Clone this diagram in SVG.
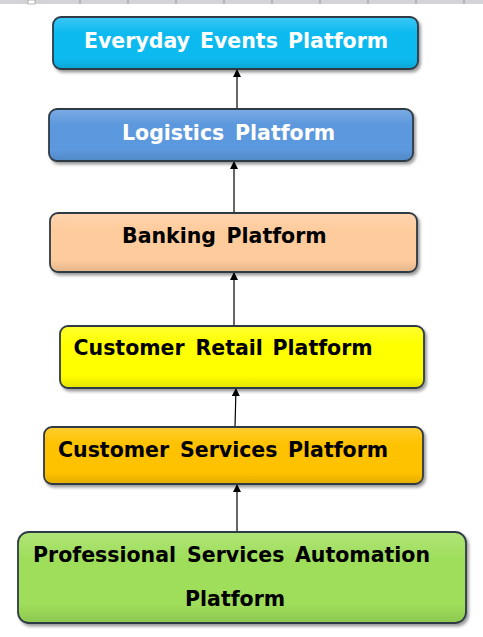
<svg xmlns="http://www.w3.org/2000/svg" width="483" height="637" viewBox="0 0 483 637">
<defs>
<style>
.box{stroke:#2f3a45;stroke-width:1.8;filter:url(#sh)}
.gl{fill:url(#gloss);stroke:none}
.t{font-family:"DejaVu Sans",Verdana,sans-serif;font-weight:bold;font-size:20.5px}
.w{fill:#ffffff}
.k{fill:#000000}
.c{stroke:#000;stroke-width:1.2;fill:none;marker-end:url(#ah)}
</style>
<filter id="sh" x="-5%" y="-10%" width="112%" height="130%">
<feDropShadow dx="2" dy="2.5" stdDeviation="1.6" flood-color="#000" flood-opacity="0.4"/>
</filter>
<linearGradient id="gloss" x1="0" y1="0" x2="0" y2="1">
<stop offset="0" stop-color="#fff" stop-opacity="0.18"/>
<stop offset="0.3" stop-color="#fff" stop-opacity="0"/>
<stop offset="0.8" stop-color="#000" stop-opacity="0"/>
<stop offset="1" stop-color="#000" stop-opacity="0.1"/>
</linearGradient>
<marker id="ah" viewBox="0 0 10 10" refX="10" refY="5" markerWidth="8" markerHeight="8" markerUnits="userSpaceOnUse" orient="auto">
<path d="M0,0 L10,5 L0,10 z" fill="#000"/>
</marker>
</defs>
<rect x="0" y="0" width="483" height="637" fill="#fff"/>
<g id="ruler">
<rect x="0" y="0" width="483" height="4" fill="#d4d4d8"/>
<rect x="28" y="0" width="7" height="4" fill="#fff" stroke="#888" stroke-width="0.6"/>
<path d="M80,0V4M128,0V4M176,0V4M224,0V4M272,0V4M320,0V4M368,0V4M416,0V4M464,0V4" stroke="#888" stroke-width="0.8"/>
</g>
<g id="connectors">
<line class="c" x1="237" y1="109" x2="237" y2="69"/>
<line class="c" x1="234" y1="213" x2="234" y2="161"/>
<line class="c" x1="234" y1="326" x2="234" y2="272"/>
<line class="c" x1="235" y1="427" x2="236" y2="388"/>
<line class="c" x1="237" y1="532" x2="237" y2="484"/>
</g>
<g id="everyday">
<rect class="box" x="53" y="17" width="365" height="52" rx="8" fill="#10baf0"/>
<rect class="gl" x="54" y="18" width="363" height="50" rx="7"/>
<text class="t w" y="48"><tspan x="84">Everyday</tspan> <tspan x="200">Events</tspan> <tspan x="288">Platform</tspan></text>
</g>
<g id="logistics">
<rect class="box" x="49" y="109" width="364" height="52" rx="8" fill="#5b98dd"/>
<rect class="gl" x="50" y="110" width="362" height="50" rx="7"/>
<text class="t w" y="140"><tspan x="122">Logistics</tspan> <tspan x="235">Platform</tspan></text>
</g>
<g id="banking">
<rect class="box" x="50" y="213" width="367" height="59" rx="8" fill="#fecb9c"/>
<rect class="gl" x="51" y="214" width="365" height="57" rx="7"/>
<text class="t k" y="243"><tspan x="122">Banking</tspan> <tspan x="226.5">Platform</tspan></text>
</g>
<g id="retail">
<rect class="box" x="60" y="326" width="364" height="62" rx="8" fill="#ffff00"/>
<rect class="gl" x="61" y="327" width="362" height="60" rx="7"/>
<text class="t k" y="355"><tspan x="73.5">Customer</tspan> <tspan x="195.5">Retail</tspan> <tspan x="272.5">Platform</tspan></text>
</g>
<g id="services">
<rect class="box" x="44" y="427" width="379" height="57" rx="8" fill="#ffc200"/>
<rect class="gl" x="45" y="428" width="377" height="55" rx="7"/>
<text class="t k" y="457"><tspan x="58">Customer</tspan> <tspan x="180">Services</tspan> <tspan x="288">Platform</tspan></text>
</g>
<g id="psa">
<rect class="box" x="18" y="532" width="448" height="91" rx="11" fill="#9ede5a"/>
<rect class="gl" x="19" y="533" width="446" height="89" rx="10"/>
<text class="t k" y="562"><tspan x="33">Professional</tspan> <tspan x="187">Services</tspan> <tspan x="295">Automation</tspan></text>
<text class="t k" x="185" y="606">Platform</text>
</g>
</svg>
